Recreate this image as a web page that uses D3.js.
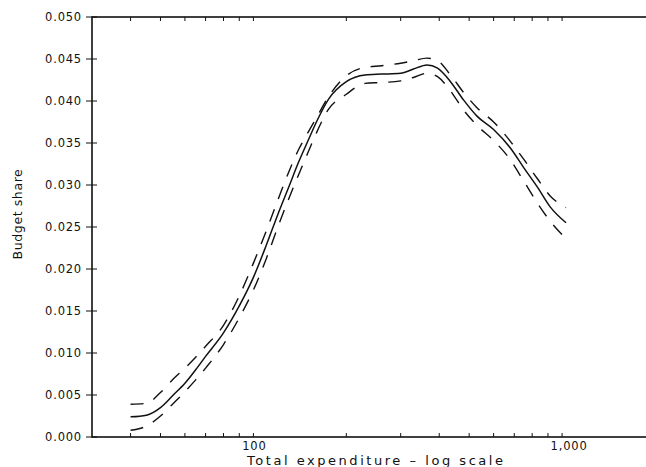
<!DOCTYPE html>
<html>
<head>
<meta charset="utf-8">
<script src="https://cdn.jsdelivr.net/npm/d3@7"></script>
<style>
  html, body { margin: 0; padding: 0; background: #fff; }
  svg { display: block; }
  text { font-family: "DejaVu Sans", "Liberation Sans", Arial, sans-serif; fill: #111; }
</style>
</head>
<body>
<svg id="chart" width="646" height="467"></svg>
<script>
// ---- data ----
const expenditure = [40, 45, 50, 55, 60, 65, 70, 80, 90, 100, 110, 120, 130, 140, 150, 160, 175, 200, 230, 260, 300, 330, 365, 395, 435, 480, 530, 600, 680, 750, 830, 915, 1030];
const shareFit   = [0.0024, 0.0026, 0.0035, 0.0050, 0.0064, 0.0080, 0.0096, 0.0124, 0.0156, 0.0190, 0.0228, 0.0265, 0.0297, 0.0327, 0.0352, 0.0375, 0.0402, 0.0423, 0.0431, 0.0432, 0.0433, 0.0438, 0.0443, 0.0439, 0.0423, 0.0401, 0.0382, 0.0366, 0.0344, 0.0321, 0.0298, 0.0274, 0.0255];
const shareUpper = [0.0039, 0.0040, 0.0053, 0.0069, 0.0082, 0.0095, 0.0108, 0.0133, 0.0168, 0.0207, 0.0245, 0.0282, 0.0315, 0.0342, 0.0362, 0.0380, 0.0405, 0.0430, 0.0440, 0.0442, 0.0445, 0.0448, 0.0451, 0.0448, 0.0431, 0.0410, 0.0392, 0.0375, 0.0352, 0.0331, 0.0308, 0.0287, 0.0273];
const shareLower = [0.0008, 0.0013, 0.0025, 0.0040, 0.0054, 0.0068, 0.0082, 0.0110, 0.0142, 0.0175, 0.0212, 0.0250, 0.0283, 0.0312, 0.0338, 0.0362, 0.0390, 0.0408, 0.0421, 0.0422, 0.0424, 0.0428, 0.0433, 0.0429, 0.0412, 0.0389, 0.0371, 0.0353, 0.0330, 0.0305, 0.0279, 0.0257, 0.0236];

const xMajorTicks = [100, 1000];
const xMajorLabels = ["100", "1,000"];
const xMinorTicks = [40, 50, 60, 70, 80, 90, 200, 300, 400, 500, 600, 700, 800, 900];
const yTicks = [0, 0.005, 0.010, 0.015, 0.020, 0.025, 0.030, 0.035, 0.040, 0.045, 0.050];
const yTickLabels = ["0.000", "0.005", "0.010", "0.015", "0.020", "0.025", "0.030", "0.035", "0.040", "0.045", "0.050"];
const xTitle = "Total expenditure  \u2013  log scale";
const yTitle = "Budget share";

// ---- layout ----
const svg = d3.select("#chart");
const plotLeft = 92, plotRight = 655, plotTop = 17, plotBottom = 437;

const x = d3.scaleLog().domain([30, 2000]).range([plotLeft, plotRight]);
const y = d3.scaleLinear().domain([0, 0.05]).range([plotBottom, plotTop]);

// frame
svg.append("rect")
  .attr("x", plotLeft).attr("y", plotTop)
  .attr("width", plotRight - plotLeft).attr("height", plotBottom - plotTop)
  .attr("fill", "none").attr("stroke", "#111").attr("stroke-width", 1.6);

// x ticks bottom (inward) and top (inward)
const allX = xMinorTicks.concat(xMajorTicks);
svg.append("g").selectAll("line").data(allX).join("line")
  .attr("x1", d => x(d)).attr("x2", d => x(d))
  .attr("y1", plotBottom).attr("y2", plotBottom - 4)
  .attr("stroke", "#111").attr("stroke-width", 1);
svg.append("g").selectAll("line").data(allX).join("line")
  .attr("x1", d => x(d)).attr("x2", d => x(d))
  .attr("y1", plotTop).attr("y2", plotTop + 4)
  .attr("stroke", "#111").attr("stroke-width", 1);

// x labels
svg.append("g").selectAll("text").data(xMajorTicks).join("text")
  .attr("x", (d, i) => x(d) + (i === 1 ? 7 : 1))
  .attr("y", 450)
  .attr("text-anchor", "middle")
  .attr("font-size", 11.5)
  .attr("letter-spacing", 0.8)
  .text((d, i) => xMajorLabels[i]);

// y ticks
svg.append("g").selectAll("line").data(yTicks).join("line")
  .attr("x1", plotLeft - 6).attr("x2", plotLeft + 5)
  .attr("y1", d => y(d)).attr("y2", d => y(d))
  .attr("stroke", "#111").attr("stroke-width", 1);

svg.append("g").selectAll("text").data(yTicks).join("text")
  .attr("x", 82)
  .attr("y", d => y(d) + 4)
  .attr("text-anchor", "end")
  .attr("font-size", 11.5)
  .attr("letter-spacing", 0.8)
  .text((d, i) => yTickLabels[i]);

// titles
svg.append("text")
  .attr("x", 247).attr("y", 465)
  .attr("font-size", 13)
  .attr("textLength", 256).attr("lengthAdjust", "spacing")
  .text(xTitle);

svg.append("text")
  .attr("transform", "translate(22,214) rotate(-90)")
  .attr("text-anchor", "middle")
  .attr("font-size", 12.5)
  .attr("letter-spacing", 0.6)
  .text(yTitle);

// curves
const line = vals => d3.line()
  .x((d, i) => x(expenditure[i]))
  .y(d => y(d))
  .curve(d3.curveMonotoneX)(vals);

svg.append("path").attr("d", line(shareUpper))
  .attr("fill", "none").attr("stroke", "#111").attr("stroke-width", 1.4)
  .attr("stroke-dasharray", "13,11");
svg.append("path").attr("d", line(shareLower))
  .attr("fill", "none").attr("stroke", "#111").attr("stroke-width", 1.4)
  .attr("stroke-dasharray", "13,11");
svg.append("path").attr("d", line(shareFit))
  .attr("fill", "none").attr("stroke", "#111").attr("stroke-width", 1.5);
</script>
</body>
</html>
